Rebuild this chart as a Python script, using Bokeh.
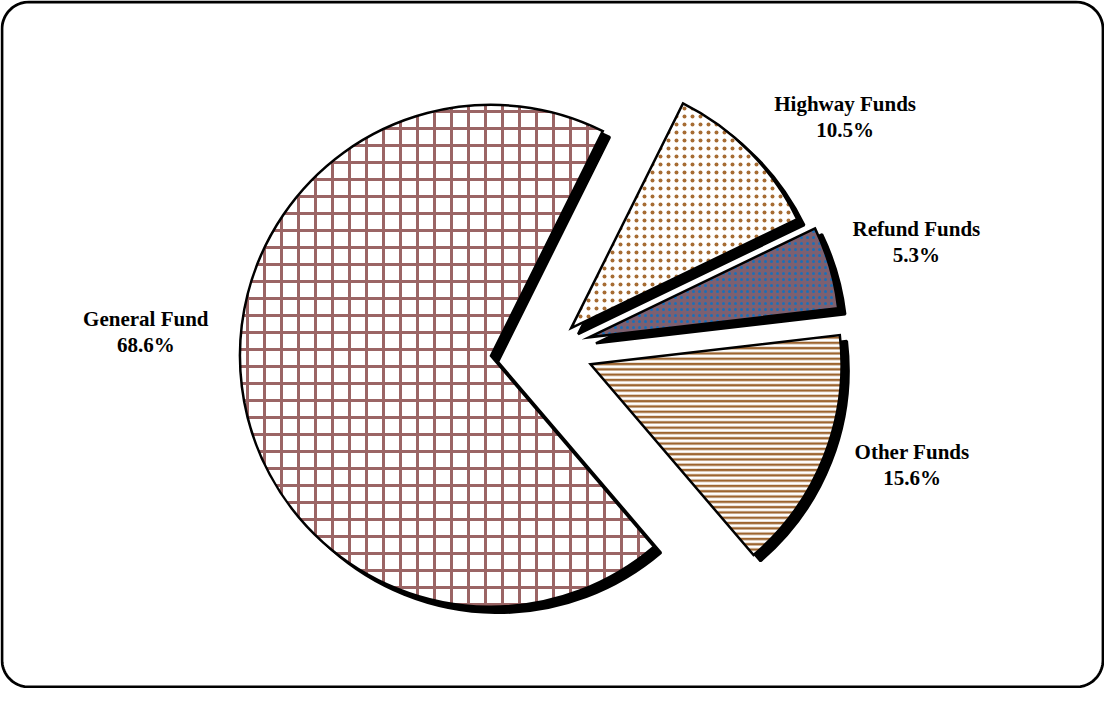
import numpy as np
from bokeh.plotting import figure
from bokeh.models import Range1d, ColumnDataSource
from bokeh.core.properties import value
from bokeh.embed import file_html
from bokeh.resources import INLINE

# ---- data ----
categories = ["General Fund", "Highway Funds", "Refund Funds", "Other Funds"]
shares = [68.6, 10.5, 5.3, 15.6]

# ---- style / layout ----
W, H = 1104, 688
CX, CY = 550.0, 340.0          # pie centre (px)
RADIUS = 251.0
START_DEG = 310.5              # first slice starts here, slices run clockwise
explode = [60, 29, 40, 43]
label_shift = [-11, -7, 0, 4]
label_dist = [346, 346, 341, 337]
shadow_dx, shadow_dy = 7, -6

fill_colors = ["white", "white", "#7d6070", "white"]
hatch_patterns = ["+", ".", ".", "-"]
hatch_colors = ["#9b6565", "#a66c33", "#1a6fb8", "#9d6530"]
hatch_scales = [17, 8, 6, 5.3]
hatch_weights = [3, 2.2, 4.2, 2.4]

vals = np.array(shares, dtype=float)
frac = vals / vals.sum()
cum = np.concatenate([[0], np.cumsum(frac)]) * 360.0
a_start = START_DEG - cum[:-1]    # larger angle
a_end = START_DEG - cum[1:]       # smaller angle
mid = np.radians((a_start + a_end) / 2)
ex = CX + np.array(explode) * np.cos(mid)
ey = CY + np.array(explode) * np.sin(mid)

src = ColumnDataSource(dict(
    x=ex, y=ey,
    sx=ex + shadow_dx, sy=ey + shadow_dy,
    start=np.radians(a_end), end=np.radians(a_start),
    fill=fill_colors, hp=hatch_patterns, hc=hatch_colors,
    hs=hatch_scales, hw=hatch_weights,
))

la = mid + np.radians(label_shift)
lx = ex + np.array(label_dist) * np.cos(la)
ly = ey + np.array(label_dist) * np.sin(la)
labels = [f"{c}\n{v:.1f}%" for c, v in zip(categories, shares)]
lsrc = ColumnDataSource(dict(x=lx, y=ly, text=labels))

p = figure(width=W, height=H, x_range=Range1d(0, W), y_range=Range1d(0, H),
           output_backend="svg", toolbar_location=None, min_border=0,
           x_axis_location=None, y_axis_location=None)
p.grid.visible = False
p.outline_line_color = None
p.background_fill_color = "white"
p.border_fill_color = "white"

# rounded frame
rr, inset = 27.0, 1.5
x0, x1, y0, y1 = inset, W - inset, inset, H - inset
pts_x, pts_y = [], []
for (cx, cy, a0) in [(x1 - rr, y1 - rr, 0), (x0 + rr, y1 - rr, 90),
                     (x0 + rr, y0 + rr, 180), (x1 - rr, y0 + rr, 270)]:
    t = np.radians(np.linspace(a0, a0 + 90, 20))
    pts_x += list(cx + rr * np.cos(t))
    pts_y += list(cy + rr * np.sin(t))
p.patch(pts_x, pts_y, fill_color=None, line_color="black", line_width=2.8)

# shadows
p.wedge(x="sx", y="sy", radius=RADIUS, start_angle="start", end_angle="end",
        source=src, fill_color="black", line_color="black", line_width=2.5)
# slices
p.wedge(x="x", y="y", radius=RADIUS, start_angle="start", end_angle="end",
        source=src, fill_color="fill", line_color="black", line_width=2.5,
        line_join="miter",
        hatch_pattern="hp", hatch_color="hc", hatch_scale="hs", hatch_weight="hw")

p.text(x="x", y="y", text="text", source=lsrc,
       text_font=value("Liberation Serif"), text_font_style="bold",
       text_font_size="21px", text_align="center", text_baseline="middle",
       text_line_height=1.08, text_color="black")

open("out.html", "w").write(file_html(p, INLINE))
